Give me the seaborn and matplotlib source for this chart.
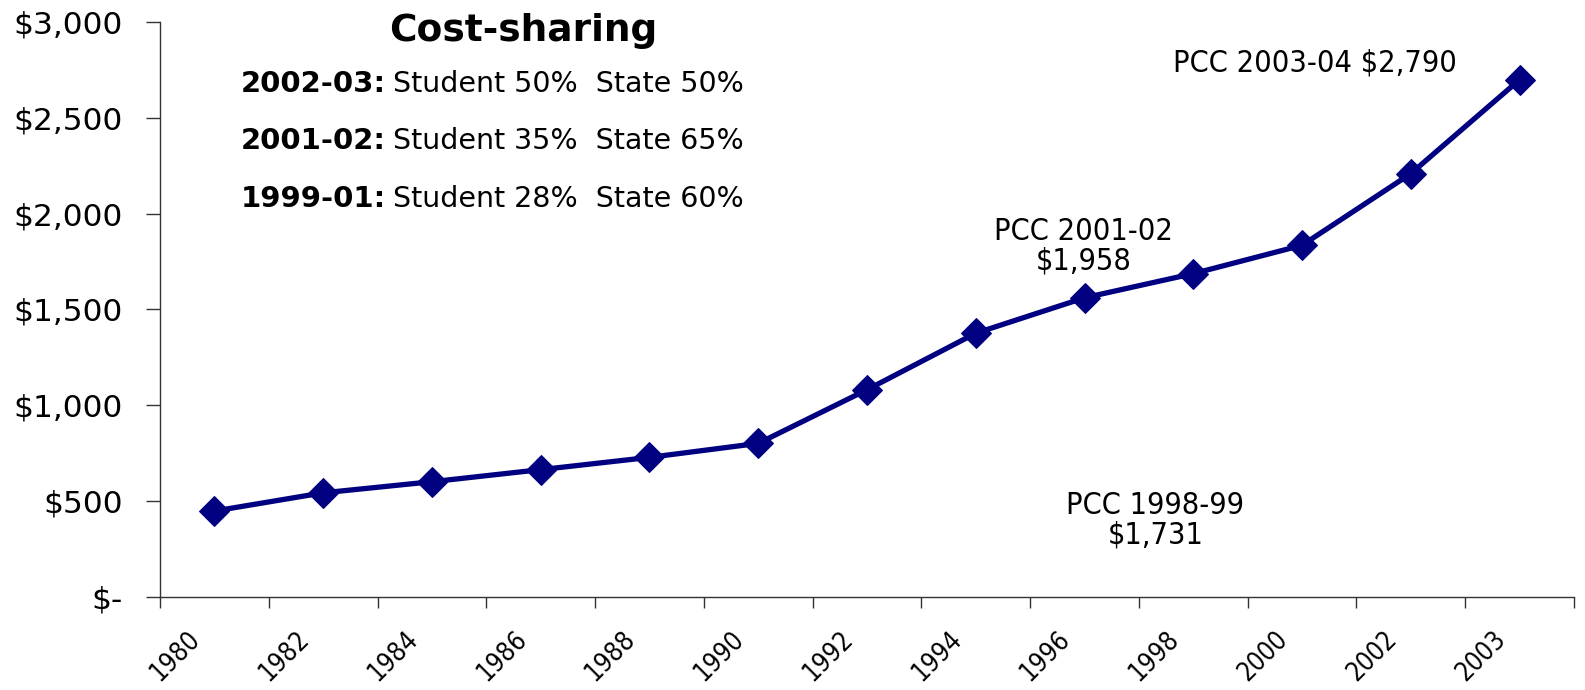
import numpy as np
import pandas as pd
import matplotlib
matplotlib.use("Agg")
import matplotlib.pyplot as plt
import matplotlib.transforms as mtransforms
import seaborn as sns
from matplotlib.ticker import FuncFormatter, FixedLocator

# Data
years = ["1980", "1982", "1984", "1986", "1988", "1990", "1992",
         "1994", "1996", "1998", "2000", "2002", "2003"]
fees = [448, 543, 601, 664, 728, 801, 1081, 1376, 1561, 1687, 1835, 2209, 2699]

share_terms = ["2002-03:", "2001-02:", "1999-01:"]
share_text = ["Student 50%  State 50%", "Student 35%  State 65%", "Student 28%  State 60%"]

df = pd.DataFrame({"year": years, "fee": fees})

sns.set_style("white")
plt.rcParams["font.family"] = ["DejaVu Sans"]
plt.rcParams["text.color"] = "black"
plt.rcParams["xtick.color"] = "black"
plt.rcParams["ytick.color"] = "black"

fig = plt.figure(figsize=(15.85, 6.9), dpi=100)
ax = fig.add_axes([0.101, 0.135, 0.892, 0.833])

sns.lineplot(data=df, x="year", y="fee", sort=False, ax=ax, color="#000080",
             linewidth=3.8, marker="D", markersize=15, markeredgecolor="#000080")

ax.set_xlim(-0.5, len(years) - 0.5)
ax.set_ylim(0, 3000)
ax.set_yticks(np.arange(0, 3001, 500))
ax.yaxis.set_major_formatter(FuncFormatter(lambda v, p: "$-" if v == 0 else "${:,.0f}".format(v)))

ax.tick_params(axis="x", which="major", bottom=True, length=0, pad=21, labelsize=18.5)
ax.tick_params(axis="x", which="minor", bottom=True, length=8, width=1, color="#333333", direction="out")
ax.tick_params(axis="y", left=True, length=10, width=1, color="#333333", direction="out",
               labelsize=22.5, pad=17)
ax.xaxis.set_minor_locator(FixedLocator(np.arange(-0.5, len(years), 1)))
ax.set_xticks(range(len(years)))
ax.set_xticklabels(years, rotation=45, ha="right", va="top", rotation_mode="anchor",
                   fontstretch="condensed")
# labels sit a little left of the category centre, like the original
shift = mtransforms.ScaledTranslation(-27 / 100, 0, fig.dpi_scale_trans)
for lab in ax.get_xticklabels():
    lab.set_transform(lab.get_transform() + shift)
ax.set_xlabel("")
ax.set_ylabel("")

for s in ["top", "right"]:
    ax.spines[s].set_visible(False)
for s in ["left", "bottom"]:
    ax.spines[s].set_color("#333333")
    ax.spines[s].set_linewidth(1)

# text box at the top left
ax.text(2.84, 2955, "Cost-sharing", ha="center", va="center", fontsize=27, fontweight="bold")
for i, (term, txt) in enumerate(zip(share_terms, share_text)):
    t = ax.text(0.24, 2675 - i * 298, term, ha="left", va="center", fontsize=21, fontweight="bold")
    ax.annotate(txt, xy=(1, 0.5), xycoords=t, xytext=(5, 0), textcoords="offset points",
                ha="left", va="center", fontsize=20.5)

note = dict(ha="center", va="center", fontsize=22, linespacing=1.05, fontstretch="condensed")
ax.text(7.99, 1830, "PCC 2001-02\n$1,958", **note)
ax.text(8.65, 400, "PCC 1998-99\n$1,731", **note)
ax.text(10.12, 2784, "PCC 2003-04 $2,790", **note)

fig.savefig("out.png", dpi=100)
